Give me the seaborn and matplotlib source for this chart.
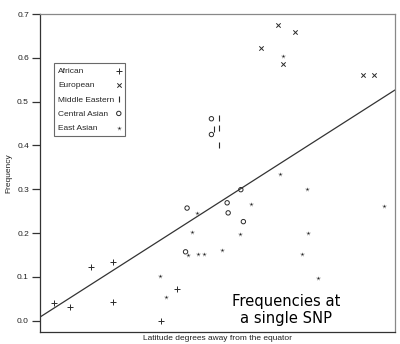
import matplotlib
matplotlib.use("Agg")
import matplotlib.pyplot as plt
import seaborn as sns
import pandas as pd

# ---- data (latitude in degrees, allele frequency) ----
african_lat = [2.8, 5.9, 10.1, 14.3, 14.3, 23.8, 27.0]
african_freq = [0.040, 0.032, 0.123, 0.133, 0.043, 0.000, 0.071]

european_lat = [47.0, 50.3, 43.6, 47.9, 63.6, 65.8]
european_freq = [0.674, 0.658, 0.623, 0.586, 0.561, 0.561]

mideast_lat = [35.3, 34.3, 35.3, 35.2]
mideast_freq = [0.462, 0.438, 0.439, 0.402]

central_lat = [33.8, 33.8, 39.6, 36.9, 29.0, 37.1, 40.1, 28.7]
central_freq = [0.461, 0.425, 0.299, 0.269, 0.257, 0.246, 0.226, 0.157]

eastasian_lat = [48.0, 47.4, 52.6, 41.6, 67.9, 30.9, 30.0, 39.5, 52.9, 35.9,
                 29.2, 31.2, 32.3, 51.6, 23.7, 24.9, 54.8]
eastasian_freq = [0.605, 0.334, 0.300, 0.266, 0.262, 0.245, 0.202, 0.198, 0.200, 0.161,
                  0.150, 0.152, 0.152, 0.152, 0.102, 0.053, 0.097]

group_names = ["African", "European", "Middle Eastern", "Central Asian", "East Asian"]

# fitted trend line (intercept, slope)
line_lat = [0, 70]
line_intercept = 0.008
line_slope = 0.00741

y_ticks = [0.0, 0.1, 0.2, 0.3, 0.4, 0.5, 0.6, 0.7]

# ---- build table ----
frames = []
for name, la, fr in zip(group_names,
                        [african_lat, european_lat, mideast_lat, central_lat, eastasian_lat],
                        [african_freq, european_freq, mideast_freq, central_freq, eastasian_freq]):
    frames.append(pd.DataFrame({"lat": la, "freq": fr, "group": name}))
df = pd.concat(frames, ignore_index=True)

sns.set_theme(style="white")
plt.rcParams["font.family"] = ["Liberation Sans", "DejaVu Sans"]

fig = plt.figure(figsize=(4.0, 3.44), dpi=100)
ax = fig.add_axes([0.10, 0.035, 0.8875, 0.924])

ink = "#2a2a2a"
styles = {
    "African": dict(marker="+", s=14, color=ink, linewidth=0.7),
    "European": dict(marker="x", s=10, color=ink, linewidth=0.7),
    "Middle Eastern": dict(marker="|", s=22, color=ink, linewidth=0.8),
    "Central Asian": dict(marker="o", s=10, facecolor="none", edgecolor=ink, linewidth=0.7),
    "East Asian": dict(marker="*", s=15, color=ink, linewidth=0.3),
}
for name in group_names:
    sub = df[df["group"] == name]
    sns.scatterplot(data=sub, x="lat", y="freq", ax=ax, label=name, **styles[name])

line_freq = [line_intercept + line_slope * v for v in line_lat]
sns.lineplot(x=line_lat, y=line_freq, ax=ax, color="#333333", linewidth=0.9)

ax.set_xlim(0, 70)
ax.set_ylim(-0.026, 0.70)
ax.set_xticks([])
ax.set_yticks(y_ticks)
ax.set_yticklabels([f"{v:.1f}" for v in y_ticks], fontsize=6, color="#222222")
ax.tick_params(axis="y", left=True, length=6, width=0.9, color="#333333", pad=2)

for side in ["left", "bottom"]:
    ax.spines[side].set_color("#333333")
    ax.spines[side].set_linewidth(0.9)
for side in ["top", "right"]:
    ax.spines[side].set_color("#888888")
    ax.spines[side].set_linewidth(0.9)

ax.set_xlabel("Latitude degrees away from the equator", fontsize=6, color="#222222", labelpad=2)
ax.set_ylabel("Frequency", fontsize=6, color="#222222", labelpad=3)

leg = ax.legend(loc="upper left", bbox_to_anchor=(0.040, 0.845), markerfirst=False,
                fontsize=6, frameon=True, fancybox=False, edgecolor="#444444",
                borderpad=0.5, labelspacing=0.75, handlelength=0.6, handletextpad=0.2,
                borderaxespad=0)
leg.get_frame().set_linewidth(0.8)
leg.get_frame().set_facecolor("white")

# left-align legend labels while keeping markers in a right-hand column
fig.canvas.draw()
renderer = fig.canvas.get_renderer()
texts = leg.get_texts()
widths = [t.get_window_extent(renderer).width for t in texts]
maxw = max(widths)
rows = []
for col in leg._legend_handle_box.get_children():
    rows.extend(col.get_children())
for row, w in zip(rows, widths):
    row.sep = row.sep + (maxw - w) * 72.0 / fig.dpi

ax.text(0.693, 0.069, "Frequencies at\na single SNP", transform=ax.transAxes,
        ha="center", va="center", fontsize=10.6, family="DejaVu Sans",
        color="black", linespacing=1.15)

fig.savefig("out.png", dpi=100)
